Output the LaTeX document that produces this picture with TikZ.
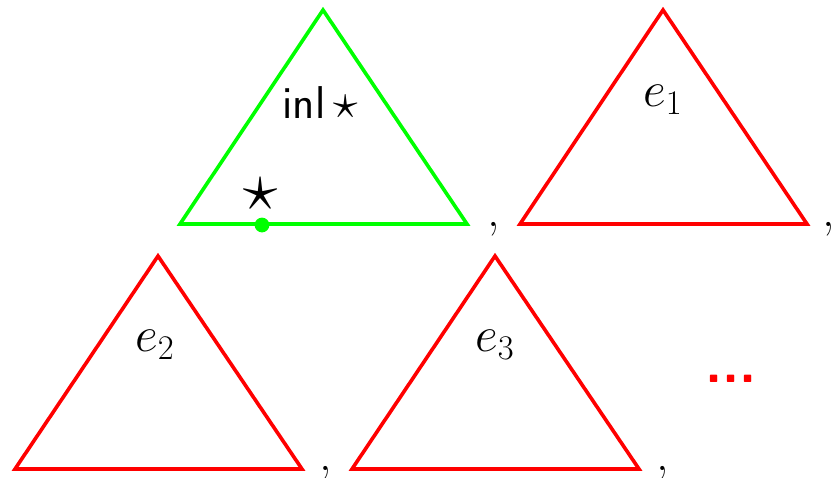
\documentclass[tikz,border=0pt]{standalone}
\usepackage{amsmath}
\begin{document}
\begin{tikzpicture}[x=0.5pt,y=-0.5pt,
  tri/.style={line width=1.8pt,line join=miter},
  lbl/.style={font=\fontsize{25}{30}\selectfont,inner sep=0pt},
  commanode/.style={font=\fontsize{25}{30}\selectfont,inner sep=0pt,anchor=base}]
\useasboundingbox (0,0) rectangle (833,477);
% green triangle
\coordinate (a1) at (323,10); \coordinate (b1) at (180,224); \coordinate (c1) at (467,224);
\draw[tri,green] (a1) -- (b1) -- (c1) -- cycle;
\fill[green] (262,225) circle (3.7pt) coordinate (pt);
\node[lbl,font=\fontsize{23}{28}\selectfont] (inl) at (320,103) {\sffamily inl\,$\star$};
\node[lbl,scale=1.4] (st) at (261,194) {$\star$};
% red triangles
\coordinate (a2) at (663,10); \coordinate (b2) at (520,224); \coordinate (c2) at (807,224);
\draw[tri,red] (a2) -- (b2) -- (c2) -- cycle;
\node[lbl] (e1) at (663,100) {$e_1$};
\coordinate (a3) at (158,256); \coordinate (b3) at (15,469); \coordinate (c3) at (302,469);
\draw[tri,red] (a3) -- (b3) -- (c3) -- cycle;
\node[lbl] (e2) at (155,345) {$e_2$};
\coordinate (a4) at (495,256); \coordinate (b4) at (352,469); \coordinate (c4) at (639,469);
\draw[tri,red] (a4) -- (b4) -- (c4) -- cycle;
\node[lbl] (e3) at (495,345) {$e_3$};
% commas
\node[commanode] (k1) at (494,226) {,};
\node[commanode] (k2) at (829,226) {,};
\node[commanode] (k3) at (326,470) {,};
\node[commanode] (k4) at (663,470) {,};
% dots
\node[lbl,red,font=\fontsize{28}{34}\selectfont] (dots) at (731,379) {\sffamily\bfseries ...};
\end{tikzpicture}
\end{document}
